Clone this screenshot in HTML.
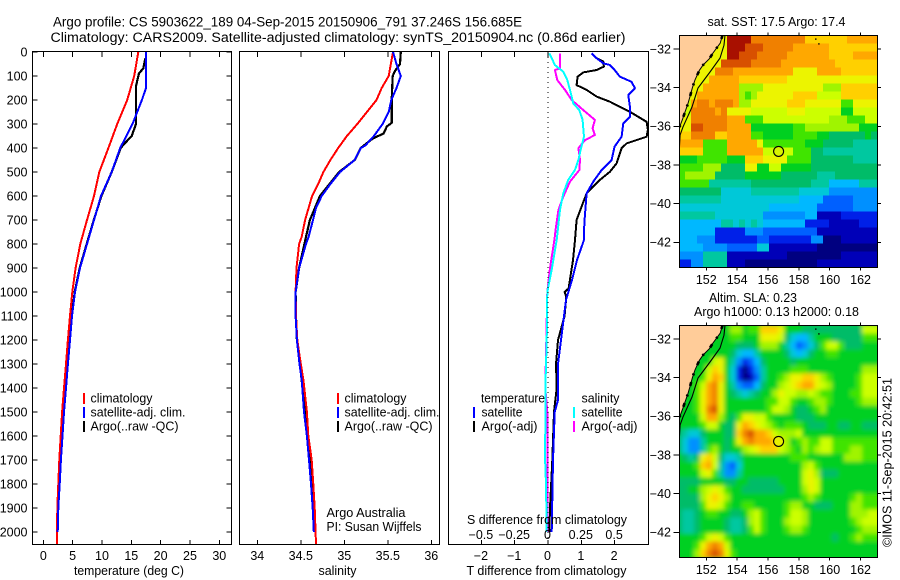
<!DOCTYPE html>
<html lang="en">
<head>
<meta charset="utf-8">
<title>Argo profile CS 5903622_189</title>
<style>
html,body{margin:0;padding:0;background:#fff;width:900px;height:580px;overflow:hidden}
svg{display:block}
text{font-family:"Liberation Sans",sans-serif;font-size:12.5px;fill:#000}
.t{font-size:13.5px}
.fr{fill:none;stroke:#000;stroke-width:1;shape-rendering:crispEdges}
.bar{shape-rendering:crispEdges}
</style>
</head>
<body>
<svg id="fig" width="900" height="580" viewBox="0 0 900 580" xmlns="http://www.w3.org/2000/svg">
<defs>
<clipPath id="clip-t"><rect x="32.5" y="52" width="199" height="493"/></clipPath>
<clipPath id="clip-s"><rect x="240" y="52" width="199" height="493"/></clipPath>
<clipPath id="clip-d"><rect x="448.5" y="52" width="200" height="493"/></clipPath>
<clipPath id="clip-m1"><rect x="679.5" y="35.5" width="198" height="232"/></clipPath>
<clipPath id="clip-m2"><rect x="679.5" y="325.5" width="198" height="232"/></clipPath>
<filter id="soft" x="-5%" y="-5%" width="110%" height="110%"><feGaussianBlur stdDeviation="2.2"/></filter>
</defs>
<rect width="900" height="580" fill="#fff"/>

<text class="t" x="53" y="26.5" textLength="469" lengthAdjust="spacingAndGlyphs">Argo profile: CS 5903622_189 04-Sep-2015 20150906_791 37.246S 156.685E</text>
<text class="t" x="50.5" y="42" textLength="575" lengthAdjust="spacingAndGlyphs">Climatology: CARS2009. Satellite-adjusted climatology: synTS_20150904.nc (0.86d earlier)</text>

<g id="series-t" clip-path="url(#clip-t)"></g>
<g id="series-s" clip-path="url(#clip-s)"></g>
<g id="series-d" clip-path="url(#clip-d)"></g>
<g id="map1" clip-path="url(#clip-m1)"></g>
<g id="map2" clip-path="url(#clip-m2)"></g>
<g id="ticks"></g>

<rect class="fr" x="32.5" y="51.5" width="199" height="493"/>
<rect class="fr" x="239.5" y="51.5" width="200" height="493"/>
<rect class="fr" x="448.5" y="51.5" width="200" height="493"/>
<rect class="fr" x="679.5" y="35.5" width="198" height="232"/>
<rect class="fr" x="679.5" y="325.5" width="198" height="232"/>

<text x="74" y="575" textLength="110" lengthAdjust="spacingAndGlyphs">temperature (deg C)</text>
<text x="318.5" y="575" textLength="38" lengthAdjust="spacingAndGlyphs">salinity</text>
<text x="466.5" y="575" textLength="160" lengthAdjust="spacingAndGlyphs">T difference from climatology</text>
<text x="467" y="524" textLength="160" lengthAdjust="spacingAndGlyphs">S difference from climatology</text>

<g>
<rect class="bar" x="83" y="393" width="2" height="11" fill="#f00"/>
<rect class="bar" x="83" y="407" width="2" height="11" fill="#00f"/>
<rect class="bar" x="83" y="421" width="2" height="11" fill="#000"/>
<text x="90.5" y="402.5" textLength="62" lengthAdjust="spacingAndGlyphs">climatology</text>
<text x="90.5" y="416.5" textLength="95" lengthAdjust="spacingAndGlyphs">satellite-adj. clim.</text>
<text x="90.5" y="430.5" textLength="88" lengthAdjust="spacingAndGlyphs">Argo(..raw -QC)</text>
</g>
<g>
<rect class="bar" x="337" y="393" width="2" height="11" fill="#f00"/>
<rect class="bar" x="337" y="407" width="2" height="11" fill="#00f"/>
<rect class="bar" x="337" y="421" width="2" height="11" fill="#000"/>
<text x="344.5" y="402.5" textLength="62" lengthAdjust="spacingAndGlyphs">climatology</text>
<text x="344.5" y="416.5" textLength="95" lengthAdjust="spacingAndGlyphs">satellite-adj. clim.</text>
<text x="344.5" y="430.5" textLength="88" lengthAdjust="spacingAndGlyphs">Argo(..raw -QC)</text>
</g>
<text x="326.5" y="517" textLength="79" lengthAdjust="spacingAndGlyphs">Argo Australia</text>
<text x="326.5" y="531" textLength="95" lengthAdjust="spacingAndGlyphs">PI: Susan Wijffels</text>

<g>
<text x="481" y="402.5" textLength="64" lengthAdjust="spacingAndGlyphs">temperature</text>
<text x="581.5" y="402.5" textLength="38" lengthAdjust="spacingAndGlyphs">salinity</text>
<rect class="bar" x="473" y="407" width="2" height="11" fill="#00f"/>
<rect class="bar" x="473" y="421" width="2" height="11" fill="#000"/>
<rect class="bar" x="573" y="407" width="2" height="11" fill="#0ff"/>
<rect class="bar" x="573" y="421" width="2" height="11" fill="#f0f"/>
<text x="481.5" y="416.5" textLength="41" lengthAdjust="spacingAndGlyphs">satellite</text>
<text x="481.5" y="430.5" textLength="56" lengthAdjust="spacingAndGlyphs">Argo(-adj)</text>
<text x="581.5" y="416.5" textLength="41" lengthAdjust="spacingAndGlyphs">satellite</text>
<text x="581.5" y="430.5" textLength="56" lengthAdjust="spacingAndGlyphs">Argo(-adj)</text>
</g>

<text x="707.5" y="26" textLength="138" lengthAdjust="spacingAndGlyphs">sat. SST: 17.5 Argo: 17.4</text>
<text x="709" y="302" textLength="88" lengthAdjust="spacingAndGlyphs">Altim. SLA: 0.23</text>
<text x="694" y="316" textLength="165" lengthAdjust="spacingAndGlyphs">Argo h1000: 0.13 h2000: 0.18</text>
<text transform="translate(891.5,547) rotate(-90)" textLength="169" lengthAdjust="spacingAndGlyphs">©IMOS 11-Sep-2015 20:42:51</text>
</svg>

<script>
// ---- profile data ----
const depthTickValues = [0,100,200,300,400,500,600,700,800,900,1000,1100,1200,1300,1400,1500,1600,1700,1800,1900,2000];
const tempTickValues = [0,5,10,15,20,25,30];
const salTickValues = [34,34.5,35,35.5,36];
const salTickLabels = ['34','34.5','35','35.5','36'];
const tDiffTickValues = [-2,-1,0,1,2];
const tDiffTickLabels = ['\u22122','\u22121','0','1','2'];
const sDiffTickValues = [-0.5,-0.25,0,0.25,0.5];
const sDiffTickLabels = ['\u22120.5','\u22120.25','0','0.25','0.5'];

const tempClimDepth = [0,100,200,300,400,500,600,700,800,900,1000,1100,1200,1300,1400,1500,1600,1700,1800,1900,2050];
const tempClimValue = [16.2,15.5,14.3,12.6,11.1,9.55,8.64,7.45,6.3,5.5,4.95,4.55,4.2,3.87,3.53,3.2,2.96,2.73,2.56,2.39,2.33];
const tempSatDepth = [0,150,200,300,400,500,600,700,800,900,1000,1100,1200,1300,1400,1500,1600,1700,1800,1900,2000];
const tempSatValue = [17.5,17.5,16.8,15.2,13.1,11.65,9.83,8.64,7.45,6.25,5.4,4.9,4.55,4.2,3.87,3.53,3.27,3,2.8,2.56,2.45];
const tempArgoDepth = [26,68,90,142,250,300,350,380,400,500,600,700,800,900,1000,1100,1200,1300,1400,1500,1600,1700,1800,1900,2000];
const tempArgoValue = [17.4,17.05,16.3,15.8,15.8,15.8,15.07,13.9,13.2,11.65,9.9,8.6,7.4,6.2,5.35,4.85,4.5,4.15,3.8,3.45,3.2,2.95,2.72,2.5,2.4];

const salClimDepth = [0,100,150,200,250,300,350,400,450,500,550,600,650,700,770,800,900,1000,1100,1200,1300,1366,1500,1600,1700,1800,1900,2050];
const salClimValue = [35.56,35.51,35.43,35.37,35.26,35.15,35.03,34.93,34.84,34.76,34.7,34.63,34.59,34.55,34.51,34.48,34.45,34.44,34.445,34.46,34.5,34.53,34.57,34.586,34.625,34.644,34.66,34.675];
const salSatDepth = [0,50,100,150,200,250,300,350,390,400,450,500,550,600,650,700,770,800,900,1000,1100,1200,1300,1366,1500,1600,1700,1800,1900,2000];
const salSatValue = [35.56,35.6,35.65,35.6,35.54,35.51,35.44,35.34,35.24,35.19,35.12,34.95,34.84,34.74,34.675,34.64,34.59,34.56,34.48,34.44,34.44,34.455,34.485,34.51,34.537,34.57,34.594,34.617,34.637,34.65];
const salArgoDepth = [0,50,80,100,200,295,310,340,360,385,400,450,500,600,700,770,900,1000,1100,1200,1300,1400,1500,1600,1700,1800,1900,2000];
const salArgoValue = [35.65,35.64,35.58,35.556,35.545,35.545,35.49,35.45,35.33,35.24,35.19,35.12,34.94,34.72,34.605,34.56,34.48,34.44,34.445,34.455,34.49,34.52,34.55,34.58,34.61,34.63,34.65,34.66];

const tDiffSatDepth = [6,26,47,54,75,103,124,151,179,228,270,297,353,394,450,492,540,589,644,714,783,867,950,1033,1100,1300,1450,1500,1700,2000];
const tDiffSatValue = [1.31,1.46,1.66,1.86,2,2.16,2.51,2.61,2.41,2.46,2.46,2.26,2.21,2,1.91,1.61,1.36,1.16,1.13,1.09,1.08,0.87,0.72,0.54,0.48,0.3,0.3,0.2,0.15,0.11];
const tDiffArgoDepth = [6,26,40,61,75,85,103,138,158,186,207,249,291,325,353,381,401,464,499,533,589,644,700,783,867,985,1000,1020,1100,1200,1300,1400,1500,1700,1900,2000];
const tDiffArgoValue = [1.31,1.46,1.66,1.68,1.46,1.06,0.89,0.86,1.16,1.46,1.86,2.46,2.96,3,2.96,2.36,2.21,2.06,1.86,1.56,1.16,1.01,0.86,0.81,0.75,0.62,0.5,0.55,0.5,0.3,0.24,0.26,0.18,0.13,0.06,0.04];
const sDiffArgoDepth = [6,68,75,117,158,200,242,283,318,346,367,401,450,492,540,603,658,728,783,900,1000,1400,1500,2000];
const sDiffArgoValue = [0.09,0.09,0.052,0.07,0.128,0.178,0.265,0.352,0.335,0.352,0.278,0.228,0.24,0.235,0.165,0.115,0.078,0.06,0.048,0.015,-0.005,-0.02,-0.005,-0.005];
const sDiffSatDepth = [6,26,54,82,117,158,214,242,283,353,408,450,492,533,589,658,783,900,1000,1200,1366,1700,1800,2000];
const sDiffSatValue = [0.01,0.028,0.052,0.115,0.145,0.165,0.19,0.235,0.26,0.27,0.245,0.228,0.202,0.152,0.115,0.09,0.065,0.03,-0.005,-0.01,-0.018,-0.022,-0.015,-0.01];

// ---- map data: colour level per cell, rows north to south ----
const sstLevels = [
[13,13,13,13,13,13,13,13,18,18,18,18,16,16,16,16,16,16,16,16,16,14,14,14,14,14,14,14,15,15,15,15,15],
[13,13,13,13,13,13,13,13,18,18,18,17,17,17,16,16,16,16,16,15,15,15,15,15,15,14,14,14,14,14,14,14,14],
[13,13,13,13,13,13,13,13,18,18,17,17,17,16,16,16,16,16,15,15,15,15,15,15,15,14,14,14,14,15,15,15,15],
[13,13,13,13,13,13,13,17,17,17,17,17,16,16,16,16,16,15,15,15,15,15,15,15,15,15,14,14,14,14,14,14,14],
[13,13,13,13,13,13,16,16,16,15,15,15,15,15,15,15,15,15,15,13,13,13,13,15,15,15,15,14,14,14,14,14,14],
[13,13,13,13,13,15,15,15,15,15,14,14,14,14,14,14,14,14,13,13,13,13,13,13,13,13,13,13,13,13,13,13,13],
[13,13,13,13,15,15,15,15,15,15,11,11,11,11,13,13,13,13,13,13,13,13,13,13,11,11,11,14,14,14,14,14,14],
[13,13,13,15,15,15,15,15,15,15,11,10,11,13,13,13,13,13,13,14,14,14,14,12,12,12,12,14,14,14,14,14,14],
[12,12,15,16,16,15,16,16,16,15,11,11,13,13,13,13,13,13,14,14,14,13,13,13,13,13,13,10,10,13,13,13,13],
[12,12,16,16,16,16,15,16,13,13,13,13,12,12,12,12,12,12,13,13,13,12,12,12,12,12,12,9,9,12,12,12,12],
[13,13,16,16,16,16,16,16,15,15,15,10,10,10,12,12,12,12,12,12,12,12,12,12,12,11,11,11,10,10,10,12,12],
[13,13,17,17,16,16,16,16,15,15,15,15,9,9,9,9,9,9,9,10,10,11,11,11,11,11,11,11,11,11,9,9,9],
[14,14,16,16,16,16,14,14,15,15,15,15,10,10,9,9,9,9,9,10,10,10,10,9,9,8,8,8,8,8,8,9,8],
[15,15,15,15,10,10,10,10,15,15,15,15,15,13,10,10,10,10,10,10,10,9,9,9,8,8,8,8,8,7,7,7,7],
[14,14,14,14,10,10,10,10,15,15,15,15,15,15,12,12,12,12,12,10,10,10,8,8,7,7,7,7,7,7,7,7,7],
[9,9,9,10,10,10,10,10,9,9,9,14,14,14,13,13,13,13,10,10,10,10,8,8,8,8,8,8,8,7,7,7,7],
[10,10,10,10,11,11,11,8,8,8,8,13,13,9,9,12,12,9,9,9,9,9,8,8,8,8,8,8,8,8,8,8,8],
[10,11,11,11,11,11,8,8,8,8,8,9,9,9,9,9,9,8,8,8,8,8,8,7,7,7,8,8,8,8,8,8,8],
[10,10,10,10,10,7,7,7,7,7,7,7,8,8,8,8,8,8,8,8,8,8,7,7,7,5,5,5,5,5,7,7,7],
[8,8,8,8,8,8,8,6,6,6,6,6,7,7,7,7,7,7,7,7,6,6,6,6,6,4,4,4,4,4,4,4,4],
[7,7,7,7,7,7,7,6,6,6,6,6,6,6,6,6,6,6,6,6,5,5,5,5,3,3,3,3,3,4,4,4,4],
[6,6,6,6,6,6,6,6,6,6,6,6,6,6,6,5,5,5,5,5,5,5,5,3,3,3,3,3,3,4,4,4,4],
[7,7,7,7,7,7,6,6,6,6,6,6,6,6,4,4,4,4,4,4,4,5,5,1,1,1,1,2,2,2,2,2,2],
[5,5,5,5,5,5,5,7,7,6,7,6,7,6,5,5,5,5,5,5,5,2,2,2,2,1,1,1,1,1,2,2,2],
[5,5,5,5,5,5,2,2,2,2,2,4,4,4,3,3,3,3,3,3,3,3,3,1,1,1,1,1,1,1,1,1,1],
[5,5,5,4,4,4,2,2,2,2,2,2,2,3,3,2,2,2,2,2,2,2,4,4,0,0,0,1,1,1,1,1,1],
[5,5,5,5,4,4,4,4,3,3,3,3,3,6,6,1,1,1,1,1,1,1,1,0,0,0,0,0,0,0,0,0,0],
[4,4,4,4,7,7,7,7,1,1,1,1,1,1,1,1,1,1,0,0,0,0,0,0,0,0,0,1,1,1,1,1,1],
[2,2,4,4,7,7,7,7,1,1,1,0,0,0,0,0,0,0,0,0,0,0,0,1,1,1,1,1,1,1,1,1,1]
];
const slaLevels = [
[9,9,9,9,9,9,9,9,9,11,11,9,10,10,14,14,14,13,9,9,9,8,8,8,8,8,8,8,8,8,8,12,12],
[9,9,9,9,9,9,9,9,9,10,10,9,9,9,13,13,13,12,8,6,5,5,7,9,9,9,8,8,8,8,8,10,10],
[9,9,9,9,9,9,9,9,9,9,8,8,8,9,11,11,11,9,7,5,3,4,6,8,10,12,12,10,8,8,8,9,9],
[9,9,9,9,9,9,9,9,9,8,6,5,5,7,9,9,9,9,8,6,5,6,8,9,9,10,10,9,9,9,9,9,9],
[9,9,9,9,9,9,12,13,9,7,4,2,3,5,8,9,9,9,9,8,9,9,9,9,9,9,9,9,9,9,9,9,9],
[9,9,9,9,9,12,14,13,9,6,2,0,2,4,7,9,9,9,9,10,10,10,9,9,9,9,9,9,9,9,9,11,11],
[9,9,9,9,10,13,15,14,9,6,2,0,1,3,7,9,9,10,11,13,13,14,14,13,11,10,9,9,9,9,10,12,12],
[9,9,9,10,12,15,16,13,9,7,4,3,3,5,8,9,9,11,12,13,14,15,15,13,12,11,9,9,9,9,10,12,12],
[9,9,9,10,13,15,16,13,9,8,7,6,7,8,9,9,11,13,12,12,11,11,12,11,10,10,9,9,9,10,10,12,12],
[9,9,9,10,13,15,16,13,9,9,9,9,9,9,9,10,10,12,12,10,9,9,10,11,11,10,9,9,9,9,10,11,11],
[9,9,9,10,13,16,17,13,9,9,9,9,9,9,9,10,12,12,11,9,8,8,9,10,11,9,9,9,9,9,9,9,9],
[9,9,9,9,12,15,15,11,9,8,10,13,13,12,12,10,9,9,9,9,8,8,8,9,9,9,9,9,9,9,9,9,9],
[9,9,9,9,10,12,12,9,8,8,13,15,14,13,12,11,10,9,10,10,10,9,8,8,8,9,9,8,8,9,9,8,8],
[8,7,6,6,8,9,9,9,8,8,14,16,17,15,15,14,12,11,11,11,12,9,9,9,9,9,9,9,9,9,9,9,9],
[8,6,4,4,7,9,9,9,8,9,13,15,16,15,15,15,14,13,11,9,10,11,10,10,12,12,10,10,10,10,10,10,10],
[8,6,4,4,7,10,11,9,8,9,9,11,12,13,14,14,14,12,11,10,9,11,10,11,12,12,10,10,10,11,11,10,10],
[9,8,7,8,13,14,12,8,6,6,7,9,9,9,9,9,9,9,9,10,10,10,9,9,9,9,9,9,11,11,11,10,10],
[9,9,9,10,14,15,12,7,4,3,6,9,9,9,9,9,9,9,9,9,9,11,12,10,9,9,9,9,9,9,9,9,9],
[9,9,9,9,12,13,10,7,4,4,7,9,9,9,9,9,9,9,9,9,9,12,13,11,8,8,8,9,9,9,9,9,9],
[8,8,8,8,9,9,9,9,8,8,9,9,8,8,8,8,8,9,9,9,9,12,13,12,9,9,9,9,9,9,9,9,9],
[8,8,9,9,11,12,13,12,10,9,9,8,8,8,8,8,8,8,9,9,9,11,13,12,9,9,9,9,9,9,9,9,9],
[8,8,8,8,11,13,14,13,11,9,9,9,9,9,9,9,9,9,9,9,9,10,11,10,9,9,9,9,9,10,11,10,10],
[8,8,8,8,10,13,13,12,10,9,9,10,10,9,9,9,9,9,10,11,11,9,9,8,8,8,9,9,9,11,11,10,10],
[8,7,7,8,9,10,10,9,9,8,8,9,11,12,10,9,9,9,10,12,12,11,9,9,9,9,9,9,9,11,11,11,12],
[8,7,7,8,9,9,9,9,8,7,7,8,11,12,10,9,9,9,11,12,12,11,9,9,9,9,9,9,9,10,11,12,12],
[8,7,7,8,9,9,9,9,8,7,7,8,10,12,10,9,9,9,10,11,11,10,9,9,9,9,9,9,9,9,10,11,11],
[9,9,9,9,10,12,13,12,10,9,9,9,9,9,9,9,9,9,9,9,9,9,9,9,9,9,8,9,9,10,11,10,10],
[9,9,9,10,13,15,16,15,12,9,9,9,9,9,9,9,9,9,9,9,9,9,9,9,9,9,9,9,9,9,9,9,9],
[9,9,9,11,14,16,17,16,13,10,9,9,9,9,9,9,9,9,9,9,9,9,9,9,9,9,9,9,9,9,9,9,9]
];
const levelColors = ['#000080','#0000b8','#0020e8','#0060ff','#0090ff','#00b8ff','#00c8d8','#00c8a0','#00bc68','#00d020','#40e400','#a0f400','#ccff00','#ecf400','#ffd000','#ffa800','#f08000','#d85000','#a81000'];
const mapLonTicks = [152,154,156,158,160,162];
const mapLatTicks = [-32,-34,-36,-38,-40,-42];
const coastLon = [153.05,152.9,152.43,152.2,151.79,151.55,151.27,151.1,150.94,150.8,150.62,150.45,150.24];
const coastLat = [-31.28,-31.7,-32.21,-32.5,-32.83,-33.1,-33.6,-34,-34.48,-34.85,-35.26,-35.65,-36.1];
const isobathLon = [153.21,153.15,152.89,152.24,151.46,151.07,150.49,150.3,150.25];
const isobathLat = [-31.28,-31.8,-32.47,-33.19,-34.02,-35,-36.03,-36.45,-37.2];
const islandLon = [159.05,159.25];
const islandLat = [-31.45,-31.7];
const argoLon = 156.685;
const argoLat = -37.246;

// ---- axis functions ----
const NS = 'http://www.w3.org/2000/svg';
const yDepth = d => 52 + 0.24 * d;
const xTemp = v => 43.3 + 5.867 * v;
const xSal = v => 257.3 + 87 * (v - 34);
const xTDiff = v => 548 + 33.3 * v;
const xSDiff = v => 548 + 133.2 * v;
const xLon = v => 706.3 + 15.43 * (v - 152);
const yLat = (v, off) => 49 + off + 19.33 * (-32 - v);
const LON0 = 150.24, LON_STEP = 0.3888, LAT0 = -31.29, LAT_STEP = 0.4139;

function mk(tag, attrs, parent) {
  const el = document.createElementNS(NS, tag);
  for (const k in attrs) el.setAttribute(k, attrs[k]);
  parent.appendChild(el);
  return el;
}

function drawSeries(parent, xf, values, depths, color, width, name) {
  const pts = values.map((v, i) => xf(v).toFixed(1) + ',' + yDepth(depths[i]).toFixed(1)).join(' ');
  const el = mk('polyline', {points: pts, fill: 'none', stroke: color, 'stroke-width': width, 'shape-rendering': 'crispEdges', 'stroke-linejoin': 'round'}, parent);
  
  
}

const gT = document.getElementById('series-t');
const gS = document.getElementById('series-s');
const gD = document.getElementById('series-d');
const gTicks = document.getElementById('ticks');

drawSeries(gT, xTemp, tempArgoValue, tempArgoDepth, '#000', 2.2, 'temperature-argo-line');
drawSeries(gT, xTemp, tempClimValue, tempClimDepth, '#f00', 2, 'temperature-climatology-line');
drawSeries(gT, xTemp, tempSatValue, tempSatDepth, '#00f', 2, 'temperature-satellite-line');
drawSeries(gS, xSal, salArgoValue, salArgoDepth, '#000', 2.2, 'salinity-argo-line');
drawSeries(gS, xSal, salClimValue, salClimDepth, '#f00', 2, 'salinity-climatology-line');
drawSeries(gS, xSal, salSatValue, salSatDepth, '#00f', 2, 'salinity-satellite-line');
drawSeries(gD, xTDiff, tDiffArgoValue, tDiffArgoDepth, '#000', 2, 't-difference-argo-line');
drawSeries(gD, xTDiff, tDiffSatValue, tDiffSatDepth, '#00f', 2, 't-difference-satellite-line');
drawSeries(gD, xSDiff, sDiffArgoValue, sDiffArgoDepth, '#f0f', 2, 's-difference-argo-line');
drawSeries(gD, xSDiff, sDiffSatValue, sDiffSatDepth, '#0ff', 2, 's-difference-satellite-line');

const zeroLine = mk('line', {x1: xTDiff(0), x2: xTDiff(0), y1: 52, y2: 545, stroke: '#000', 'stroke-width': 1, 'stroke-dasharray': '1 4', 'shape-rendering': 'crispEdges'}, gD);



function tick(x1, y1, x2, y2) {
  const el = mk('line', {x1: x1, y1: y1, x2: x2, y2: y2, stroke: '#000', 'stroke-width': 1, 'shape-rendering': 'crispEdges'}, gTicks);
  
  
}
function label(x, y, str, anchor) {
  const el = mk('text', {x: x, y: y, 'text-anchor': anchor}, gTicks);
  el.textContent = str;
  
  
}

depthTickValues.forEach(d => {
  const y = yDepth(d);
  tick(32.5, y, 37.5, y);
  tick(226.5, y, 231.5, y);
  label(27.5, y + 4.3, String(d), 'end');
});
tempTickValues.forEach(v => {
  const x = xTemp(v);
  tick(x, 52, x, 57);
  tick(x, 540, x, 545);
  label(x, 560, String(v), 'middle');
});
salTickValues.forEach((v, i) => {
  const x = xSal(v);
  tick(x, 52, x, 57);
  tick(x, 540, x, 545);
  label(x, 560, salTickLabels[i], 'middle');
});
tDiffTickValues.forEach((v, i) => {
  const x = xTDiff(v);
  tick(x, 52, x, 57);
  tick(x, 540, x, 545);
  label(x - 0.5, 560, tDiffTickLabels[i], 'middle');
});
sDiffTickValues.forEach((v, i) => {
  label(xSDiff(v) - 0.5, 539, sDiffTickLabels[i], 'middle');
});

function drawMap(parent, rows, off, soft) {
  const host = soft ? mk('g', {filter: 'url(#soft)'}, parent) : parent;
  const shift = soft ? -3 : 0;
  if (soft) {
    mk('rect', {x: 670, y: 320, width: 220, height: 250, fill: levelColors[9]}, host);
  }
  rows.forEach((row, r) => {
    row.forEach((lvl, c) => {
      const x = xLon(LON0 + c * LON_STEP) + shift;
      const y = yLat(LAT0 - r * LAT_STEP, off);
      const w = LON_STEP * 15.43 + (c === row.length - 1 ? 8 : 0);
      const h = LAT_STEP * 19.33;
      const cell = mk('rect', {x: x.toFixed(1), y: y.toFixed(1), width: (w + 0.6).toFixed(1), height: (h + 0.6).toFixed(1), fill: levelColors[lvl], 'shape-rendering': 'crispEdges'}, host);
      
      
    });
  });
  const lastLat = coastLat[coastLat.length - 1];
  const landPts = [[xLon(150), yLat(-31, off)]].concat([[xLon(153.1), yLat(-31, off)]],
    coastLon.map((v, i) => [xLon(v), yLat(coastLat[i], off)]), [[xLon(150), yLat(lastLat, off)]]);
  const land = mk('polygon', {points: landPts.map(p => p[0].toFixed(1) + ',' + p[1].toFixed(1)).join(' '), fill: '#ffcc99'}, parent);
  
  
  const coastPts = coastLon.map((v, i) => xLon(v).toFixed(1) + ',' + yLat(coastLat[i], off).toFixed(1)).join(' ');
  const coast = mk('polyline', {points: coastPts, fill: 'none', stroke: '#000', 'stroke-width': 1}, parent);
  
  
  const coastBlobs = mk('polyline', {points: coastPts, fill: 'none', stroke: '#000', 'stroke-width': 2.6, 'stroke-dasharray': '4 9 2 7'}, parent);
  
  
  const iso = mk('polyline', {points: isobathLon.map((v, i) => xLon(v).toFixed(1) + ',' + yLat(isobathLat[i], off).toFixed(1)).join(' '), fill: 'none', stroke: '#000', 'stroke-width': 1.1}, parent);
  
  
  islandLon.forEach((v, i) => {
    const dot = mk('rect', {x: xLon(v).toFixed(1), y: yLat(islandLat[i], off).toFixed(1), width: 1.4, height: 1.4, fill: '#000'}, parent);
    
    
  });
  const marker = mk('circle', {cx: xLon(argoLon).toFixed(1), cy: (yLat(argoLat, off) + 1).toFixed(1), r: 5, fill: soft ? '#e8f000' : '#d8f400', stroke: '#000', 'stroke-width': 1.1}, parent);
  
  
}
drawMap(document.getElementById('map1'), sstLevels, 0, false);
drawMap(document.getElementById('map2'), slaLevels, 290, true);

[[0, 35.5, 267.5, 284], [290, 325.5, 557.5, 574]].forEach(m => {
  const off = m[0], top = m[1], bot = m[2], base = m[3];
  mapLonTicks.forEach(v => {
    const x = xLon(v);
    tick(x, top - 3, x, top);
    tick(x, bot, x, bot + 3);
    label(x, base, String(v), 'middle');
  });
  mapLatTicks.forEach(v => {
    const y = yLat(v, off);
    tick(673.5, y, 679.5, y);
    tick(877.5, y, 881, y);
    label(671, y + 4.3, '\u2212' + Math.abs(v), 'end');
  });
});
</script>
</body>
</html>
